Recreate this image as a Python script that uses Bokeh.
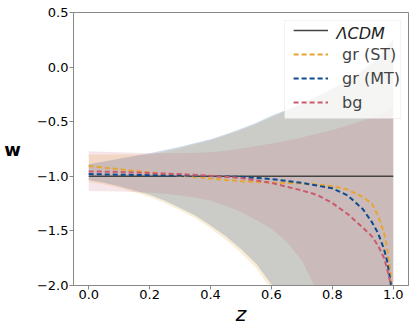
from bokeh.plotting import figure
from bokeh.models import (Range1d, FixedTicker, CustomJSTickFormatter, Legend, LegendItem,
                          Label, BoxAnnotation)
from bokeh.embed import file_html
from bokeh.resources import INLINE

# ---- data ----
z_band = [0.0, 0.05, 0.1, 0.15, 0.2, 0.25, 0.3, 0.35, 0.4, 0.45, 0.5,
          0.55, 0.6, 0.65, 0.7, 0.75, 0.8, 0.85, 0.9, 0.95, 1.0]
st_hi = [-0.80, -0.80, -0.80, -0.80, -0.80, -0.775, -0.74, -0.705, -0.67, -0.625, -0.575,
         -0.52, -0.46, -0.40, -0.34, -0.275, -0.205, -0.125, -0.035, 0.075, 0.24]
st_lo = [-1.05, -1.075, -1.105, -1.145, -1.19, -1.245, -1.31, -1.385, -1.475, -1.58, -1.70,
         -1.84, -2.04, -2.25, -2.5, -2.75, -3.05, -3.35, -3.65, -4.05, -4.55]
mt_hi = [-0.89, -0.865, -0.84, -0.815, -0.79, -0.76, -0.73, -0.695, -0.66, -0.615, -0.565,
         -0.51, -0.445, -0.39, -0.33, -0.265, -0.195, -0.115, -0.025, 0.09, 0.26]
mt_lo = [-1.035, -1.06, -1.09, -1.13, -1.17, -1.225, -1.29, -1.36, -1.45, -1.55, -1.665,
         -1.80, -1.99, -2.2, -2.45, -2.7, -3.0, -3.3, -3.6, -4.0, -4.5]
bg_hi = [-0.77, -0.775, -0.78, -0.785, -0.79, -0.79, -0.79, -0.785, -0.78, -0.765, -0.745,
         -0.725, -0.70, -0.675, -0.645, -0.61, -0.575, -0.535, -0.49, -0.44, -0.37]
bg_lo = [-1.135, -1.137, -1.14, -1.143, -1.15, -1.16, -1.175, -1.195, -1.225, -1.27, -1.325,
         -1.40, -1.48, -1.60, -1.77, -2.05, -2.4, -2.8, -3.2, -3.6, -4.0]

z_line = [0.0, 0.1, 0.2, 0.3, 0.4, 0.5, 0.6, 0.7, 0.75, 0.8, 0.85, 0.9,
          0.93, 0.95, 0.97, 0.98, 0.99, 0.995, 1.0]
w_st = [-0.905, -0.935, -0.965, -0.995, -1.02, -1.045, -1.058, -1.065, -1.075, -1.09, -1.12, -1.19,
        -1.25, -1.36, -1.52, -1.66, -1.87, -2.05, -2.6]
w_mt = [-0.98, -0.985, -0.99, -0.993, -0.998, -1.005, -1.025, -1.06, -1.085, -1.11, -1.175, -1.30,
        -1.42, -1.52, -1.67, -1.78, -1.95, -2.05, -2.5]
w_bg = [-0.955, -0.96, -0.97, -0.98, -0.995, -1.015, -1.06, -1.13, -1.17, -1.245, -1.345, -1.47,
        -1.55, -1.635, -1.75, -1.85, -1.97, -2.05, -2.5]
z_lcdm = [0.0, 1.0]
w_lcdm = [-1.0, -1.0]

x_ticks = [0.0, 0.2, 0.4, 0.6, 0.8, 1.0]
y_ticks = [-2.0, -1.5, -1.0, -0.5, 0.0, 0.5]

C_ST = "#e8a530"
C_MT = "#0d4a8e"
C_BG = "#cc5a6e"
C_L = "#444444"
FONT = "DejaVu Sans"

p = figure(width=411, height=330, x_range=Range1d(-0.05, 1.05), y_range=Range1d(-2.0, 0.5),
           output_backend="svg", toolbar_location=None,
           min_border_left=73, min_border_right=3, min_border_top=12, min_border_bottom=45)
p.background_fill_color = "white"
p.border_fill_color = "white"
p.outline_line_color = "#888888"
p.xgrid.visible = False
p.ygrid.visible = False

p.varea(x=z_band, y1=st_lo, y2=st_hi, fill_color=C_ST, fill_alpha=0.2)
p.varea(x=z_band, y1=mt_lo, y2=mt_hi, fill_color=C_MT, fill_alpha=0.2)
p.varea(x=z_band, y1=bg_lo, y2=bg_hi, fill_color=C_BG, fill_alpha=0.15)

r0 = p.line(z_lcdm, w_lcdm, line_color=C_L, line_width=1.5)
r1 = p.line(z_line, w_st, line_color=C_ST, line_width=2, line_dash="5 3")
r2 = p.line(z_line, w_mt, line_color=C_MT, line_width=2, line_dash="5 3")
r3 = p.line(z_line, w_bg, line_color=C_BG, line_width=2, line_dash="5 3")

for ax in (p.xaxis[0], p.yaxis[0]):
    ax.axis_line_color = "#888888"
    ax.major_tick_line_color = "#888888"
    ax.major_tick_out = 4
    ax.major_tick_in = 0
    ax.minor_tick_line_color = None
    ax.major_label_text_font = FONT
    ax.major_label_text_font_size = "13px"
    ax.major_label_text_color = "black"
    ax.axis_label_text_font = FONT
    ax.axis_label_text_color = "black"

p.xaxis[0].major_label_standoff = 0
p.yaxis[0].major_label_standoff = 1
p.xaxis[0].ticker = FixedTicker(ticks=x_ticks)
p.yaxis[0].ticker = FixedTicker(ticks=y_ticks)
p.xaxis[0].formatter = CustomJSTickFormatter(code="return Math.abs(tick).toFixed(1);")
p.yaxis[0].formatter = CustomJSTickFormatter(
    code="return (tick < 0 ? '\u2212' : '') + Math.abs(tick).toFixed(1);")

p.xaxis[0].axis_label = "z"
p.xaxis[0].axis_label_text_font_style = "italic"
p.xaxis[0].axis_label_text_font_size = "20px"
p.xaxis[0].axis_label_standoff = 0
p.yaxis[0].axis_label = "w"
p.yaxis[0].axis_label_text_font_style = "bold"
p.yaxis[0].axis_label_text_font_size = "18px"
p.yaxis[0].axis_label_orientation = "horizontal"
p.yaxis[0].axis_label_standoff = 13

# legend frame (white, semi-transparent) drawn behind the legend entries
box = BoxAnnotation(left=0.643, right=1.024, top=0.427, bottom=-0.471,
                    fill_color="white", fill_alpha=0.8,
                    line_color="#d5d5d5", line_width=1, level="annotation")
p.add_layout(box)

legend = Legend(items=[
    LegendItem(label=" ", renderers=[r0]),
    LegendItem(label="gr (ST)", renderers=[r1]),
    LegendItem(label="gr (MT)", renderers=[r2]),
    LegendItem(label="bg", renderers=[r3]),
], location="top_right")
legend.margin = 8
legend.padding = 3
legend.spacing = 4
legend.label_height = 20
legend.glyph_height = 20
legend.glyph_width = 35
legend.label_standoff = 14
legend.label_text_font = FONT
legend.label_text_font_size = "16px"
legend.background_fill_alpha = 0.0
legend.border_line_color = None
p.add_layout(legend)

lab = Label(x=0.8137, y=0.312, text="\u039bCDM", text_font=FONT, text_font_size="16px",
            text_font_style="italic", text_baseline="middle", text_align="left",
            text_color="#222222", level="overlay")
p.add_layout(lab)

open("out.html", "w").write(file_html(p, INLINE))
